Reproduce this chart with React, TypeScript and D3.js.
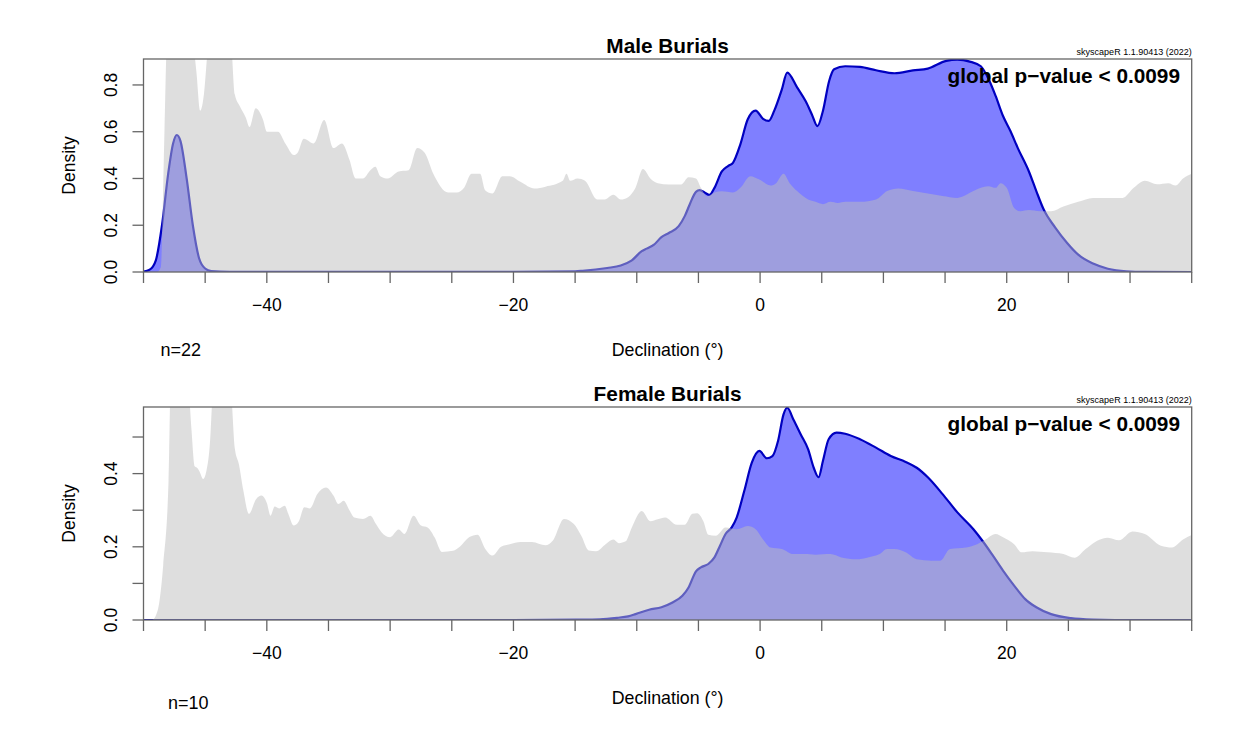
import * as d3 from 'd3';

type Pt = [number, number];

// declination (deg) vs density
const maleRef: Pt[] = [
  [-50, 0], [-48.9, 0], [-48.6, 0.02], [-48.3, 0.6], [-48.1, 1.0], [-47.5, 1.2], [-46.5, 1.2],
  [-46.0, 1.0], [-45.7, 0.85], [-45.4, 0.69], [-45.1, 0.76], [-44.8, 0.95], [-44.3, 1.2],
  [-43.3, 1.2], [-42.85, 0.95], [-42.6, 0.76], [-42.2, 0.71], [-41.7, 0.66], [-41.4, 0.62],
  [-40.9, 0.7], [-40.3, 0.65], [-40.0, 0.6], [-39.5, 0.6], [-39.1, 0.6], [-38.5, 0.55],
  [-37.8, 0.5], [-37.5, 0.51], [-37.0, 0.57], [-36.2, 0.55], [-35.35, 0.65], [-34.6, 0.53],
  [-33.9, 0.55], [-33.3, 0.48], [-32.8, 0.4], [-32.2, 0.4], [-31.6, 0.435], [-31.2, 0.45],
  [-30.8, 0.41], [-30.2, 0.4], [-29.3, 0.43], [-28.5, 0.435], [-27.8, 0.53], [-27.2, 0.51],
  [-26.5, 0.42], [-25.3, 0.34], [-24.6, 0.34], [-24.0, 0.36], [-23.4, 0.42], [-22.7, 0.42],
  [-22.3, 0.35], [-21.7, 0.336], [-20.9, 0.41], [-20.3, 0.41], [-19.4, 0.385], [-18.3, 0.357],
  [-17.4, 0.365], [-16.0, 0.39], [-15.7, 0.42], [-15.4, 0.39], [-14.8, 0.4], [-14.2, 0.39],
  [-13.2, 0.31], [-12.6, 0.31], [-11.9, 0.33], [-11.3, 0.31], [-10.7, 0.32], [-10.1, 0.36],
  [-9.5, 0.44], [-8.9, 0.4], [-8.3, 0.38], [-7.4, 0.374], [-6.4, 0.374], [-5.8, 0.405],
  [-5.2, 0.4], [-4.8, 0.36], [-4.3, 0.324], [-3.7, 0.34], [-3.1, 0.345], [-2.2, 0.34],
  [-1.6, 0.36], [-0.8, 0.41], [-0.06, 0.396], [0.85, 0.37], [1.3, 0.38], [1.9, 0.42],
  [2.4, 0.38], [3.0, 0.346], [3.9, 0.31], [4.5, 0.3], [5.1, 0.29], [5.7, 0.3], [6.3, 0.295],
  [6.9, 0.3], [8.1, 0.3], [9.4, 0.31], [10.3, 0.346], [11.2, 0.357], [12.4, 0.346],
  [13.6, 0.336], [14.8, 0.325], [16.0, 0.317], [17.3, 0.346], [17.9, 0.36], [18.5, 0.367],
  [19.1, 0.36], [19.5, 0.38], [20.0, 0.36], [20.6, 0.274], [21.1, 0.26], [21.8, 0.265],
  [22.7, 0.26], [23.6, 0.26], [24.6, 0.28], [25.8, 0.3], [27.0, 0.317], [28.2, 0.317],
  [29.4, 0.317], [30.3, 0.36], [31.2, 0.39], [32.2, 0.375], [33.1, 0.38], [33.7, 0.37],
  [34.3, 0.4], [35, 0.42],
];

const maleDens: Pt[] = [
  [-50, 0.002], [-49.5, 0.01], [-49, 0.05], [-48.5, 0.2], [-48, 0.42], [-47.6, 0.55],
  [-47.3, 0.586], [-47.0, 0.56], [-46.5, 0.4], [-46, 0.2], [-45.5, 0.06], [-45, 0.015],
  [-44.5, 0.004], [-43, 0.001], [-35, 0.0005], [-20, 0.001], [-15, 0.003], [-14.4, 0.005],
  [-12.4, 0.017], [-11.3, 0.028], [-10.4, 0.05], [-9.6, 0.089], [-9.2, 0.1], [-8.6, 0.117],
  [-8.0, 0.149], [-7.4, 0.167], [-6.6, 0.196], [-6.1, 0.24], [-5.7, 0.29], [-5.2, 0.343],
  [-4.9, 0.35], [-4.5, 0.34], [-4.1, 0.33], [-3.7, 0.36], [-3.1, 0.43], [-2.6, 0.453],
  [-2.2, 0.467], [-1.6, 0.546], [-1.0, 0.653], [-0.36, 0.69], [0.24, 0.655], [0.7, 0.646],
  [1.15, 0.69], [1.76, 0.78], [2.2, 0.853], [3.0, 0.79], [3.7, 0.73], [4.2, 0.674],
  [4.65, 0.624], [5.1, 0.69], [5.6, 0.817], [6.0, 0.867], [6.9, 0.88], [8.1, 0.877],
  [9.4, 0.863], [10.9, 0.85], [12.4, 0.862], [13.6, 0.87], [15.1, 0.903], [16.0, 0.908],
  [17.0, 0.9], [17.9, 0.88], [18.6, 0.817], [19.1, 0.753], [19.7, 0.667], [20.3, 0.603],
  [20.9, 0.53], [21.8, 0.43], [22.4, 0.346], [23.0, 0.267], [23.95, 0.189], [24.9, 0.124],
  [25.8, 0.074], [27.0, 0.036], [28.2, 0.014], [29.7, 0.003], [31.2, 0.0005], [35, 0],
];

const femaleRef: Pt[] = [
  [-50, 0], [-49.3, 0], [-48.84, 0.027], [-48.4, 0.15], [-47.97, 0.38], [-47.8, 0.65],
  [-47.3, 0.8], [-46.6, 0.8], [-46.3, 0.62], [-46.1, 0.516], [-45.85, 0.42], [-45.6, 0.414],
  [-45.45, 0.405], [-45.16, 0.385], [-44.9, 0.407], [-44.6, 0.49], [-44.4, 0.62],
  [-43.9, 0.8], [-43.2, 0.8], [-42.84, 0.6], [-42.6, 0.47], [-42.26, 0.425], [-41.9, 0.353],
  [-41.45, 0.29], [-40.87, 0.33], [-40.43, 0.34], [-40.0, 0.32], [-39.7, 0.285],
  [-39.36, 0.31], [-39.0, 0.305], [-38.55, 0.312], [-38.26, 0.29], [-37.83, 0.258],
  [-37.4, 0.27], [-36.96, 0.308], [-36.5, 0.305], [-35.9, 0.344], [-35.2, 0.362],
  [-34.6, 0.34], [-34.2, 0.317], [-33.77, 0.326], [-33.3, 0.3], [-32.9, 0.28], [-32.2, 0.276],
  [-31.6, 0.285], [-31.16, 0.263], [-30.7, 0.24], [-30.0, 0.226], [-29.3, 0.247],
  [-28.84, 0.235], [-28.1, 0.285], [-27.5, 0.258], [-26.96, 0.253], [-26.4, 0.226],
  [-25.8, 0.186], [-24.9, 0.189], [-24.35, 0.2], [-23.6, 0.226], [-22.9, 0.233],
  [-22.3, 0.195], [-21.7, 0.176], [-21.0, 0.2], [-20.3, 0.207], [-19.4, 0.213], [-18.5, 0.213],
  [-17.4, 0.204], [-16.8, 0.217], [-15.9, 0.276], [-15.1, 0.262], [-14.5, 0.23], [-13.9, 0.19],
  [-13.3, 0.188], [-12.5, 0.208], [-11.9, 0.22], [-11.45, 0.21], [-10.9, 0.215],
  [-10.4, 0.253], [-9.6, 0.298], [-8.9, 0.27], [-8.3, 0.275], [-7.7, 0.28], [-6.75, 0.26],
  [-6.1, 0.26], [-5.5, 0.29], [-5.1, 0.292], [-4.6, 0.27], [-4.2, 0.233], [-3.6, 0.23],
  [-2.8, 0.253], [-1.9, 0.248], [-1.0, 0.257], [-0.36, 0.248], [0.24, 0.22], [0.85, 0.198],
  [1.76, 0.194], [2.7, 0.18], [3.6, 0.18], [4.5, 0.178], [5.7, 0.18], [6.6, 0.171],
  [7.8, 0.166], [8.75, 0.171], [9.7, 0.18], [10.3, 0.194], [10.9, 0.194], [11.8, 0.185],
  [12.7, 0.166], [13.9, 0.162], [14.6, 0.162], [15.4, 0.194], [16.7, 0.198], [17.6, 0.207],
  [18.2, 0.218], [19.1, 0.235], [19.7, 0.226], [20.6, 0.207], [21.2, 0.185], [22.1, 0.188],
  [23.3, 0.185], [24.6, 0.18], [25.5, 0.17], [26.4, 0.194], [27.3, 0.216], [28.2, 0.225],
  [29.1, 0.218], [30.2, 0.242], [31.2, 0.235], [32.5, 0.203], [33.4, 0.198], [34.3, 0.22],
  [35, 0.232],
];

const femaleDens: Pt[] = [
  [-50, 0], [-20, 0], [-15, 0.001], [-13, 0.002], [-11.6, 0.006], [-10.7, 0.01],
  [-10.1, 0.016], [-9.0, 0.028], [-8.0, 0.035], [-7.1, 0.048], [-6.3, 0.066], [-5.8, 0.089],
  [-5.2, 0.133], [-4.8, 0.144], [-4.2, 0.153], [-3.7, 0.171], [-3.25, 0.203], [-2.8, 0.235],
  [-2.3, 0.253], [-1.9, 0.28], [-1.28, 0.353], [-0.67, 0.43], [-0.06, 0.462], [0.55, 0.442],
  [1.0, 0.448], [1.46, 0.49], [1.9, 0.562], [2.2, 0.58], [2.7, 0.548], [3.3, 0.507],
  [3.9, 0.466], [4.35, 0.416], [4.74, 0.39], [5.1, 0.435], [5.56, 0.494], [6.2, 0.512],
  [6.9, 0.509], [8.1, 0.494], [9.4, 0.471], [10.6, 0.448], [11.8, 0.432], [12.7, 0.416],
  [13.6, 0.39], [14.8, 0.344], [16.0, 0.294], [17.3, 0.248], [18.0, 0.218], [18.8, 0.18],
  [19.7, 0.135], [20.6, 0.094], [21.5, 0.057], [22.4, 0.035], [23.6, 0.016], [25.2, 0.005],
  [27.0, 0.001], [28.8, 0], [35, 0],
];

const xTicks = [-50, -45, -40, -35, -30, -25, -20, -15, -10, -5, 0, 5, 10, 15, 20, 25, 30, 35];
const xLabels = [-40, -20, 0, 20];
const maleYTicks = [0, 0.2, 0.4, 0.6, 0.8];
const maleYLabels = [0, 0.2, 0.4, 0.6, 0.8];
const femaleYTicks = [0, 0.1, 0.2, 0.3, 0.4, 0.5];
const femaleYLabels = [0, 0.2, 0.4];

const FONT = 'Liberation Sans, Arial, sans-serif';
const AXIS = '#666';
const LEFT = 143.5;
const RIGHT = 1191.7;

interface PanelProps {
  id: string;
  top: number;
  bottom: number;
  title: string;
  nLabel: string;
  nX: number;
  nY: number;
  ref_: Pt[];
  dens: Pt[];
  yMax: number;
  yTicks: number[];
  yLabels: number[];
}

const fmtX = (d: number) => (d < 0 ? '\u2212' + Math.abs(d) : String(d));

function Panel({ id, top, bottom, title, nLabel, nX, nY, ref_, dens, yMax, yTicks, yLabels }: PanelProps) {
  const x = d3.scaleLinear().domain([-50, 35]).range([LEFT, RIGHT]);
  const y = d3.scaleLinear().domain([0, yMax]).range([bottom, top]);
  const area = d3
    .area<Pt>()
    .x((d) => x(d[0]))
    .y0(y(0))
    .y1((d) => y(d[1]))
    .curve(d3.curveMonotoneX);
  const line = d3
    .line<Pt>()
    .x((d) => x(d[0]))
    .y((d) => y(d[1]))
    .curve(d3.curveMonotoneX);
  const midX = (LEFT + RIGHT) / 2;

  return (
    <g>
      <defs>
        <clipPath id={id}>
          <rect x={LEFT} y={top} width={RIGHT - LEFT} height={bottom - top} />
        </clipPath>
      </defs>
      <g clipPath={`url(#${id})`}>
        <path d={area(dens) || ''} fill="rgba(0,0,255,0.5)" />
        <path d={line(dens) || ''} fill="none" stroke="#0000c0" strokeWidth={2.2} />
        <path d={area(ref_) || ''} fill="#bebebe" fillOpacity={0.5} />
      </g>
      <rect x={LEFT} y={top} width={RIGHT - LEFT} height={bottom - top} fill="none" stroke={AXIS} strokeWidth={1.3} />

      {/* x axis */}
      {xTicks.map((t) => (
        <line key={t} x1={x(t)} x2={x(t)} y1={bottom} y2={bottom + 11} stroke={AXIS} strokeWidth={1.3} />
      ))}
      {xLabels.map((t) => (
        <text key={t} x={x(t)} y={bottom + 39} textAnchor="middle" fontSize={17.5}>
          {fmtX(t)}
        </text>
      ))}

      {/* y axis */}
      {yTicks.map((t) => (
        <line key={t} x1={LEFT - 11} x2={LEFT} y1={y(t)} y2={y(t)} stroke={AXIS} strokeWidth={1.3} />
      ))}
      {yLabels.map((t) => (
        <text
          key={t}
          transform={`translate(111,${y(t)}) rotate(-90)`}
          textAnchor="middle"
          dy="0.35em"
          fontSize={17.5}
        >
          {t.toFixed(1)}
        </text>
      ))}
      <text
        transform={`translate(69,${(top + bottom) / 2}) rotate(-90)`}
        textAnchor="middle"
        dy="0.35em"
        fontSize={17.5}
      >
        Density
      </text>

      <text x={midX} y={top - 5.7} textAnchor="middle" fontSize={20.8} fontWeight="bold">
        {title}
      </text>
      <text x={RIGHT} y={top - 4} textAnchor="end" fontSize={9}>
        skyscapeR 1.1.90413 (2022)
      </text>
      <text x={1180} y={top + 24.3} textAnchor="end" fontSize={20.8} fontWeight="bold">
        global p{'\u2212'}value {'<'} 0.0099
      </text>
      <text x={midX} y={bottom + 84} textAnchor="middle" fontSize={17.8}>
        Declination (°)
      </text>
      <text x={nX} y={nY} textAnchor="middle" fontSize={18}>
        {nLabel}
      </text>
    </g>
  );
}

export default function App() {
  return (
    <svg
      width={1255}
      height={732}
      style={{ position: 'absolute', left: 0, top: 0, background: '#fff' }}
      fontFamily={FONT}
      fill="#000"
    >
      <Panel
        id="clip-male"
        top={59}
        bottom={272}
        title="Male Burials"
        nLabel="n=22"
        nX={180.7}
        nY={355.5}
        ref_={maleRef}
        dens={maleDens}
        yMax={0.911}
        yTicks={maleYTicks}
        yLabels={maleYLabels}
      />
      <Panel
        id="clip-female"
        top={407}
        bottom={620}
        title="Female Burials"
        nLabel="n=10"
        nX={188.3}
        nY={708.5}
        ref_={femaleRef}
        dens={femaleDens}
        yMax={0.582}
        yTicks={femaleYTicks}
        yLabels={femaleYLabels}
      />
    </svg>
  );
}
